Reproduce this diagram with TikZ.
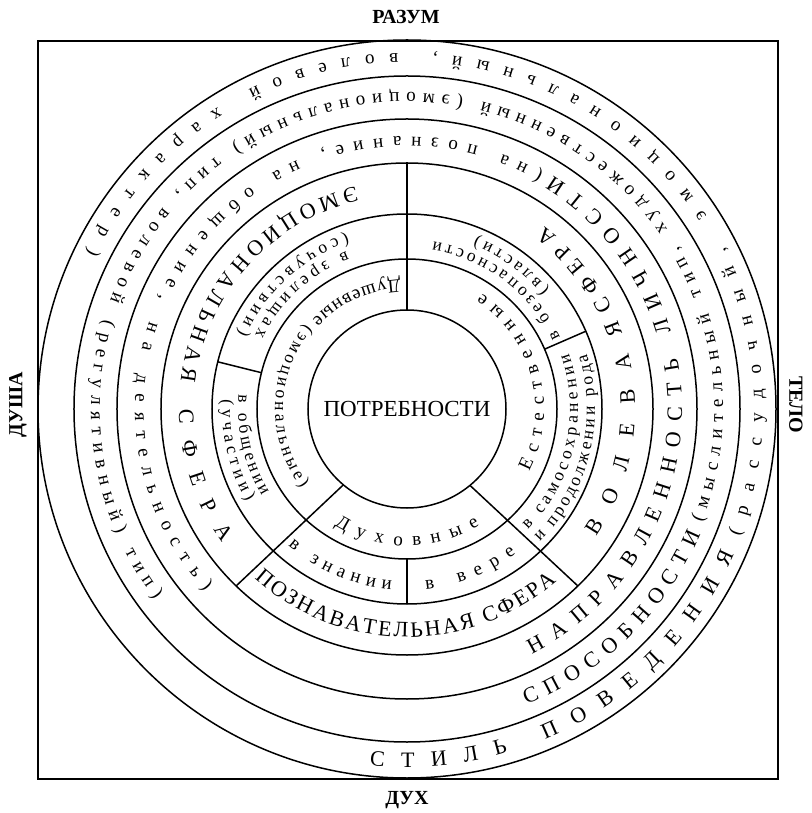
\documentclass[tikz,border=0pt]{standalone}
\usepackage{fontspec}
\setmainfont{Liberation Serif}
\usetikzlibrary{decorations.text}
\newcommand\fcaps{\fontsize{22}{24}\selectfont}
\newcommand\flow{\fontsize{19}{21}\selectfont}
\newcommand\fneed{\fontsize{19}{21}\selectfont}
\newcommand\fsub{\fontsize{17.5}{20}\selectfont}
\tikzset{
  ring/.style={
    line width=1.5pt
  },
  outerframe/.style={
    line width=2.4pt
  },
  ringtext/.style={
    decorate,
    decoration={text along path, text={#1}, text align=fit to path}
  },
  pole/.style={
    font=\bfseries\fontsize{20}{22}\selectfont
  }
}

\begin{document}
\begin{tikzpicture}[x=1pt,y=1pt]
\useasboundingbox (-407,-404) rectangle (404,409);
\coordinate (c) at (0,0);
% frame and rings
\draw[outerframe] (-369,368) rectangle (371,-370);
\foreach \r in {99,150,195,246,290,333,369}
  \draw[ring] (c) circle[radius=\r];
% sector borders
\draw[ring] (90:99) -- (90:246);
\draw[ring] (230:99) -- (226:246);
\draw[ring] (309.5:99) -- (314:246);
\draw[ring] (166:150) -- (166:195);
\draw[ring] (23.5:150) -- (23.5:195);
\draw[ring] (270:150) -- (270:195);
% poles
\node[pole] (razum) at (-1,392) {РАЗУМ};
\node[pole] (dukh) at (0,-391) {ДУХ};
\node[pole, rotate=90] (dusha) at (-389,4) {ДУША};
\node[pole, rotate=-90] (telo) at (389,4) {ТЕЛО};
\node[font=\fontsize{23}{25}\selectfont] (needs) at (c) {ПОТРЕБНОСТИ};
% needs
\path[ringtext={|\fneed|Душевные}] (93:130) arc[start angle=93, end angle=137, radius=130];
\path[ringtext={|\fsub|(эмоциональные)}] (140:132) arc[start angle=140, end angle=217, radius=132];
\path[ringtext={|\fneed|Естественные}] (333:137) arc[start angle=333, end angle=417, radius=137];
\path[ringtext={|\fneed|Духовные}] (238:137) arc[start angle=238, end angle=302, radius=137];
% kinds of needs
\path[ringtext={|\fsub|в зрелищах}] (111:169) arc[start angle=111, end angle=154, radius=169];
\path[ringtext={|\fsub|(сочувствии)}] (109:185) arc[start angle=109, end angle=156, radius=185];
\path[ringtext={|\fsub|в общении}] (175:169) arc[start angle=175, end angle=211, radius=169];
\path[ringtext={|\fsub|(участии)}] (177:185) arc[start angle=177, end angle=210, radius=185];
\path[ringtext={|\fneed|в знании}] (229:181) arc[start angle=229, end angle=265, radius=181];
\path[ringtext={|\fneed|в вере}] (276:181) arc[start angle=276, end angle=307, radius=181];
\path[ringtext={|\fsub|в самосохранении}] (315:171) arc[start angle=315, end angle=379, radius=171];
\path[ringtext={|\fsub|и продолжении рода}] (315:188) arc[start angle=315, end angle=377, radius=188];
\path[ringtext={|\fsub|в безопасности}] (25:169) arc[start angle=25, end angle=81, radius=169];
\path[ringtext={|\fsub|(власти)}] (40:185) arc[start angle=40, end angle=68, radius=185];
% spheres
\path[ringtext={|\fcaps|ЭМОЦИОНАЛЬНАЯ}] (103:228) arc[start angle=103, end angle=173, radius=228];
\path[ringtext={|\fcaps|СФЕРА}] (180:228) arc[start angle=180, end angle=216, radius=228];
\path[ringtext={|\fcaps|ПОЗНАВАТЕЛЬНАЯ СФЕРА}] (228:228) arc[start angle=228, end angle=311, radius=228];
\path[ringtext={|\fcaps|ВОЛЕВАЯ}] (326:228) arc[start angle=326, end angle=383, radius=228];
\path[ringtext={|\fcaps|СФЕРА}] (26:228) arc[start angle=26, end angle=53, radius=228];
% outer rings
\path[ringtext={|\fcaps|НАПРАВЛЕННОСТЬ ЛИЧНОСТИ}] (297:275) arc[start angle=297, end angle=418, radius=275];
\path[ringtext={|\flow|(на познание, на общение, на деятельность)}] (60:272) arc[start angle=60, end angle=222, radius=272];
\path[ringtext={|\fcaps|СПОСОБНОСТИ}] (292:319) arc[start angle=292, end angle=337, radius=319];
\path[ringtext={|\flow|(мыслительный тип, художественный (эмоциональный) тип, волевой (регулятивный) тип)}] (339:316) arc[start angle=339, end angle=577, radius=316];
\path[ringtext={|\fcaps|СТИЛЬ ПОВЕДЕНИЯ}] (264:358) arc[start angle=264, end angle=336, radius=358];
\path[ringtext={|\flow|(рассудочный, эмоциональный, волевой характер)}] (339:356) arc[start angle=339, end angle=514, radius=356];
\end{tikzpicture}
\end{document}
